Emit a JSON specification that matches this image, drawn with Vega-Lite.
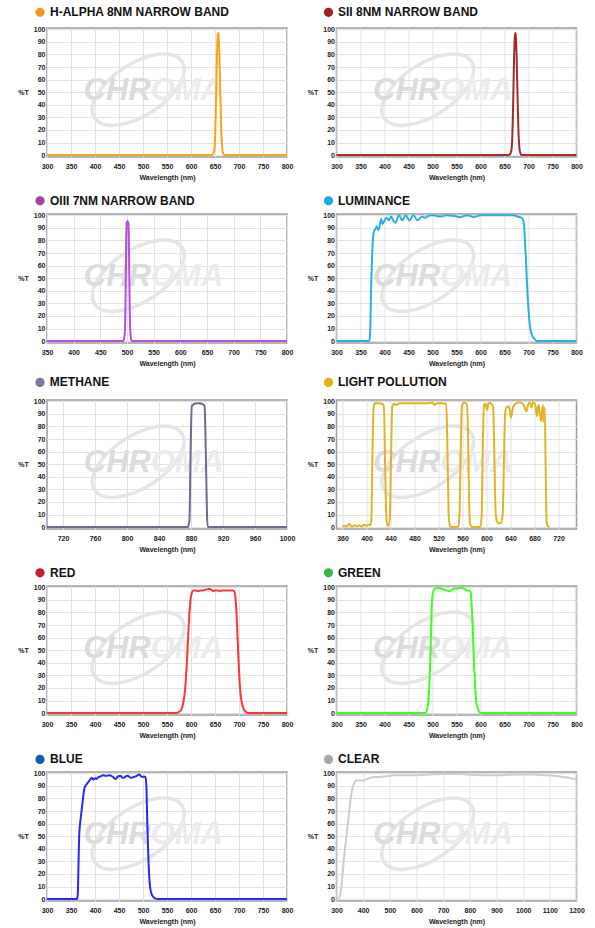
{
"$schema": "https://vega.github.io/schema/vega-lite/v6.json",
"padding": {"left": 17, "top": 5, "right": 5, "bottom": 2},
"background": "white",
"config": {
  "numberFormat": "d",
  "view": {"stroke": "#9d9d9d", "strokeWidth": 1.5},
  "axis": {"grid": true, "gridColor": "#e2e2e2", "gridWidth": 1, "domain": false, "ticks": false, "labelFont": "Liberation Sans", "labelFontSize": 7, "labelFontWeight": "bold", "labelColor": "#222", "titleFont": "Liberation Sans", "titleFontSize": 7, "titleFontWeight": "bold", "titleColor": "#222", "labelFlush": false, "labelOverlap": false},
  "axisX": {"labelPadding": 5, "titlePadding": 4},
  "axisY": {"labelPadding": 2, "titleAngle": 0, "titleX": -24, "titleY": 64, "titleAlign": "center", "titleBaseline": "middle"},
  "text": {"font": "Liberation Sans"}
},
"datasets": {
  "ha": [{"w":300,"t":0},{"w":640,"t":0},{"w":645,"t":0.5},{"w":648,"t":3},{"w":650,"t":12},{"w":652,"t":40},{"w":654,"t":78},{"w":655.5,"t":94},{"w":656.5,"t":97},{"w":657.5,"t":95},{"w":659,"t":82},{"w":661,"t":50},{"w":663,"t":20},{"w":665,"t":6},{"w":667,"t":1.5},{"w":670,"t":0},{"w":800,"t":0}],
  "sii": [{"w":300,"t":0},{"w":656,"t":0},{"w":661,"t":0.5},{"w":664,"t":3},{"w":666,"t":12},{"w":668,"t":40},{"w":670,"t":78},{"w":671.5,"t":94},{"w":672.5,"t":97},{"w":673.5,"t":95},{"w":675,"t":82},{"w":677,"t":50},{"w":679,"t":20},{"w":681,"t":6},{"w":683,"t":1.5},{"w":686,"t":0},{"w":800,"t":0}],
  "oiii": [{"w":350,"t":0},{"w":492,"t":0},{"w":494,"t":1},{"w":496,"t":8},{"w":497.5,"t":40},{"w":498.5,"t":80},{"w":499.5,"t":94},{"w":501,"t":95.5},{"w":502.5,"t":94},{"w":503.5,"t":82},{"w":504.5,"t":45},{"w":506,"t":10},{"w":508,"t":1},{"w":510,"t":0},{"w":800,"t":0}],
  "lum": [{"w":300,"t":0},{"w":368,"t":0},{"w":370,"t":5},{"w":372,"t":40},{"w":375,"t":75},{"w":378,"t":87},{"w":381,"t":89},{"w":384,"t":91},{"w":387,"t":88},{"w":390,"t":92},{"w":393,"t":97},{"w":396,"t":93},{"w":399,"t":95},{"w":404,"t":98},{"w":409,"t":96},{"w":414,"t":99},{"w":418,"t":96},{"w":423,"t":94},{"w":430,"t":100},{"w":437,"t":96},{"w":444,"t":100},{"w":452,"t":96},{"w":460,"t":100},{"w":469,"t":96},{"w":478,"t":99},{"w":485,"t":98},{"w":492,"t":99.5},{"w":499,"t":100},{"w":508,"t":99.5},{"w":517,"t":99},{"w":530,"t":100},{"w":545,"t":99.5},{"w":558,"t":98.5},{"w":572,"t":100},{"w":586,"t":98.5},{"w":600,"t":100},{"w":620,"t":100},{"w":640,"t":100},{"w":660,"t":100},{"w":669,"t":100},{"w":676,"t":99},{"w":683,"t":98.5},{"w":688,"t":97},{"w":691,"t":90},{"w":694,"t":70},{"w":697,"t":45},{"w":700,"t":25},{"w":703,"t":12},{"w":707,"t":5},{"w":712,"t":2},{"w":718,"t":0},{"w":800,"t":0}],
  "meth": [{"w":700,"t":0},{"w":876,"t":0},{"w":878,"t":5},{"w":879.5,"t":60},{"w":881,"t":96},{"w":885,"t":98.3},{"w":890,"t":98.5},{"w":895,"t":97.5},{"w":897,"t":96},{"w":898.5,"t":60},{"w":900,"t":10},{"w":901,"t":0},{"w":1000,"t":0}],
  "lp": [{"w":360,"t":0.5},{"w":363,"t":1},{"w":366,"t":0.5},{"w":369,"t":1.5},{"w":371.5,"t":2.5},{"w":374,"t":1},{"w":377,"t":0.5},{"w":380,"t":1.5},{"w":384,"t":0.8},{"w":388,"t":1.5},{"w":392,"t":0.5},{"w":396,"t":1.8},{"w":400,"t":1},{"w":404,"t":2},{"w":406,"t":1.5},{"w":408,"t":5},{"w":410,"t":60},{"w":412,"t":96},{"w":414,"t":98.5},{"w":420,"t":98.5},{"w":426,"t":98},{"w":429,"t":96},{"w":431,"t":50},{"w":433,"t":8},{"w":435,"t":1.5},{"w":437,"t":1},{"w":439,"t":8},{"w":441,"t":60},{"w":443,"t":96},{"w":446,"t":98},{"w":450,"t":97},{"w":455,"t":98.5},{"w":470,"t":98.5},{"w":490,"t":98.5},{"w":505,"t":98.5},{"w":510,"t":99},{"w":513,"t":97},{"w":518,"t":98.5},{"w":525,"t":98.5},{"w":533,"t":98},{"w":535,"t":60},{"w":537,"t":10},{"w":539,"t":1},{"w":541,"t":0},{"w":550,"t":0},{"w":553,"t":0.5},{"w":555,"t":10},{"w":557,"t":60},{"w":559,"t":96},{"w":563,"t":99},{"w":567,"t":98},{"w":569,"t":80},{"w":571,"t":20},{"w":573,"t":2},{"w":576,"t":0},{"w":590,"t":0},{"w":592,"t":10},{"w":594,"t":70},{"w":596,"t":97},{"w":598,"t":98},{"w":601,"t":93},{"w":603,"t":98},{"w":605.5,"t":99},{"w":608,"t":98},{"w":611,"t":96},{"w":613,"t":60},{"w":615,"t":15},{"w":617,"t":5},{"w":620,"t":3},{"w":624,"t":3},{"w":627,"t":10},{"w":629,"t":50},{"w":631,"t":90},{"w":633,"t":95},{"w":637,"t":96},{"w":639,"t":92},{"w":641,"t":87},{"w":644,"t":95},{"w":648,"t":98},{"w":652,"t":99},{"w":657,"t":99},{"w":662,"t":97},{"w":665,"t":93},{"w":666.7,"t":92},{"w":669,"t":97},{"w":672,"t":99},{"w":675,"t":95},{"w":677,"t":99},{"w":679,"t":99},{"w":681.7,"t":96},{"w":684,"t":88},{"w":686,"t":96},{"w":687,"t":97},{"w":688.9,"t":89},{"w":690,"t":88},{"w":691,"t":84},{"w":692.5,"t":92},{"w":694,"t":97},{"w":695,"t":84},{"w":696,"t":90},{"w":697,"t":95},{"w":698.5,"t":50},{"w":700,"t":8},{"w":701,"t":2},{"w":703,"t":0.5},{"w":705,"t":0}],
  "red": [{"w":300,"t":0},{"w":570,"t":0},{"w":575,"t":1},{"w":580,"t":3},{"w":584,"t":8},{"w":588,"t":20},{"w":592,"t":45},{"w":596,"t":75},{"w":599,"t":90},{"w":602,"t":96},{"w":605,"t":97.5},{"w":610,"t":97.5},{"w":615,"t":97},{"w":620,"t":97.5},{"w":625,"t":97.5},{"w":630,"t":98},{"w":635,"t":98.5},{"w":638,"t":98.8},{"w":642,"t":98},{"w":646,"t":97},{"w":650,"t":97.5},{"w":656,"t":97.5},{"w":660,"t":97},{"w":665,"t":97.5},{"w":672,"t":97.5},{"w":680,"t":97.5},{"w":688,"t":97.5},{"w":691,"t":96},{"w":693,"t":90},{"w":695,"t":78},{"w":697,"t":60},{"w":699,"t":42},{"w":701,"t":27},{"w":703,"t":16},{"w":706,"t":8},{"w":709,"t":4},{"w":712,"t":2},{"w":716,"t":0.5},{"w":722,"t":0},{"w":800,"t":0}],
  "green": [{"w":300,"t":0},{"w":483,"t":0},{"w":487,"t":1},{"w":490,"t":5},{"w":493,"t":20},{"w":496,"t":50},{"w":498,"t":80},{"w":500,"t":94},{"w":503,"t":98},{"w":507,"t":99},{"w":512,"t":99.5},{"w":517,"t":99},{"w":522,"t":98.5},{"w":528,"t":97.5},{"w":534,"t":97},{"w":540,"t":98},{"w":546,"t":99},{"w":551,"t":99},{"w":556,"t":99.5},{"w":562,"t":99.5},{"w":567,"t":98.5},{"w":572,"t":97.5},{"w":576,"t":97.5},{"w":579,"t":97},{"w":581,"t":90},{"w":583,"t":75},{"w":585,"t":55},{"w":587,"t":35},{"w":589,"t":20},{"w":591,"t":10},{"w":594,"t":4},{"w":597,"t":1.5},{"w":601,"t":0},{"w":800,"t":0}],
  "blue": [{"w":300,"t":0},{"w":362,"t":0},{"w":364,"t":3},{"w":365.5,"t":25},{"w":367,"t":50},{"w":369,"t":60},{"w":372,"t":70},{"w":375,"t":80},{"w":378,"t":88},{"w":382,"t":91},{"w":386,"t":93},{"w":390,"t":95},{"w":393,"t":96.5},{"w":396,"t":95},{"w":400,"t":96},{"w":403,"t":95.5},{"w":407,"t":97},{"w":412,"t":97.5},{"w":416,"t":98.5},{"w":421,"t":98},{"w":426,"t":98},{"w":430,"t":98.5},{"w":434,"t":98},{"w":439,"t":96.5},{"w":443,"t":95.5},{"w":448,"t":97.5},{"w":453,"t":98},{"w":457,"t":96.5},{"w":460,"t":96.5},{"w":464,"t":97.5},{"w":468,"t":98},{"w":472,"t":97},{"w":476,"t":96.5},{"w":480,"t":97},{"w":485,"t":97.5},{"w":489,"t":98.5},{"w":492,"t":99},{"w":495,"t":98},{"w":499,"t":97},{"w":502,"t":97.5},{"w":505,"t":97},{"w":507,"t":90},{"w":509,"t":60},{"w":511,"t":35},{"w":513,"t":18},{"w":515,"t":9},{"w":518,"t":4},{"w":521,"t":2},{"w":525,"t":0.5},{"w":530,"t":0},{"w":800,"t":0}],
  "clear": [{"w":300,"t":0},{"w":305,"t":0},{"w":310,"t":1},{"w":314,"t":4},{"w":318,"t":9},{"w":322,"t":18},{"w":327,"t":30},{"w":333,"t":42},{"w":340,"t":55},{"w":347,"t":68},{"w":353,"t":80},{"w":360,"t":88},{"w":366,"t":92},{"w":372,"t":94},{"w":380,"t":94.3},{"w":390,"t":94.3},{"w":403,"t":94.5},{"w":415,"t":95.5},{"w":428,"t":96.5},{"w":440,"t":97},{"w":460,"t":97},{"w":483,"t":97.5},{"w":500,"t":98},{"w":520,"t":98.5},{"w":560,"t":98.5},{"w":607,"t":98.5},{"w":650,"t":99},{"w":694,"t":99.5},{"w":730,"t":99.5},{"w":768,"t":99.5},{"w":790,"t":99},{"w":850,"t":98.5},{"w":917,"t":98.5},{"w":980,"t":99},{"w":1041,"t":99},{"w":1080,"t":98.5},{"w":1115,"t":98},{"w":1150,"t":97},{"w":1180,"t":96},{"w":1200,"t":95}]
},
"bounds": "flush",
"columns": 2,
"spacing": {"row": 57, "column": 49.5},
"concat": [
  {"width": 240, "height": 129,
   "layer": [
    {"data": {"values": [{}]}, "mark": {"type": "point", "shape": "M-1,0C-1,-0.276,-0.552,-0.5,0,-0.5C0.552,-0.5,1,-0.276,1,0C1,0.276,0.552,0.5,0,0.5C-0.552,0.5,-1,0.276,-1,0Z", "size": 10816, "angle": -33, "filled": false, "color": "#e5e5e5", "strokeWidth": 3.5, "opacity": 1}, "encoding": {"x": {"datum": 490, "type": "quantitative", "axis": {"title": "Wavelength (nm)", "values": [300,350,400,450,500,550,600,650,700,750,800]}}, "y": {"datum": 52, "type": "quantitative", "axis": {"title": "%T", "values": [0,10,20,30,40,50,60,70,80,90,100]}}}},
    {"data": {"values": [{}]}, "mark": {"type": "text", "text": "CHR", "align": "right", "baseline": "middle", "fontSize": 31, "fontWeight": "bold", "fontStyle": "italic", "color": "#dcdcdc"}, "encoding": {"x": {"datum": 516, "type": "quantitative", "axis": {"title": "Wavelength (nm)", "values": [300,350,400,450,500,550,600,650,700,750,800]}}, "y": {"datum": 51, "type": "quantitative", "axis": {"title": "%T", "values": [0,10,20,30,40,50,60,70,80,90,100]}}}},
    {"data": {"values": [{}]}, "mark": {"type": "text", "text": "OMA", "align": "left", "baseline": "middle", "fontSize": 31, "fontWeight": "bold", "fontStyle": "italic", "color": "#ebebeb"}, "encoding": {"x": {"datum": 516, "type": "quantitative", "axis": {"title": "Wavelength (nm)", "values": [300,350,400,450,500,550,600,650,700,750,800]}}, "y": {"datum": 51, "type": "quantitative", "axis": {"title": "%T", "values": [0,10,20,30,40,50,60,70,80,90,100]}}}},
    {"data": {"values": [{"name": "H-ALPHA 8NM NARROW BAND"}]}, "mark": {"type": "point", "filled": true, "size": 85, "color": "#f7941d", "opacity": 1}, "encoding": {"x": {"datum": 285.4, "type": "quantitative", "axis": {"title": "Wavelength (nm)", "values": [300,350,400,450,500,550,600,650,700,750,800]}}, "y": {"datum": 113.5, "type": "quantitative", "axis": {"title": "%T", "values": [0,10,20,30,40,50,60,70,80,90,100]}}}},
    {"data": {"values": [{"name": "H-ALPHA 8NM NARROW BAND"}]}, "mark": {"type": "text", "align": "left", "baseline": "middle", "fontSize": 12, "fontWeight": "bold", "color": "#111"}, "encoding": {"text": {"field": "name"}, "x": {"datum": 306.25, "type": "quantitative", "axis": {"title": "Wavelength (nm)", "values": [300,350,400,450,500,550,600,650,700,750,800]}}, "y": {"datum": 113.5, "type": "quantitative", "axis": {"title": "%T", "values": [0,10,20,30,40,50,60,70,80,90,100]}}}},
    {"data": {"name": "ha"}, "mark": {"type": "line", "color": "#f9a51a", "strokeWidth": 2, "interpolate": "monotone"},
     "encoding": {"x": {"field": "w", "type": "quantitative", "scale": {"domain": [300, 800], "nice": false, "zero": false}, "axis": {"title": "Wavelength (nm)", "values": [300,350,400,450,500,550,600,650,700,750,800]}},
                  "y": {"field": "t", "type": "quantitative", "scale": {"domain": [-1.5, 101], "nice": false}, "axis": {"title": "%T", "values": [0,10,20,30,40,50,60,70,80,90,100]}}}}
   ]},
  {"width": 240, "height": 129,
   "layer": [
    {"data": {"values": [{}]}, "mark": {"type": "point", "shape": "M-1,0C-1,-0.276,-0.552,-0.5,0,-0.5C0.552,-0.5,1,-0.276,1,0C1,0.276,0.552,0.5,0,0.5C-0.552,0.5,-1,0.276,-1,0Z", "size": 10816, "angle": -33, "filled": false, "color": "#e5e5e5", "strokeWidth": 3.5, "opacity": 1}, "encoding": {"x": {"datum": 490, "type": "quantitative", "axis": {"title": "Wavelength (nm)", "values": [300,350,400,450,500,550,600,650,700,750,800]}}, "y": {"datum": 52, "type": "quantitative", "axis": {"title": "%T", "values": [0,10,20,30,40,50,60,70,80,90,100]}}}},
    {"data": {"values": [{}]}, "mark": {"type": "text", "text": "CHR", "align": "right", "baseline": "middle", "fontSize": 31, "fontWeight": "bold", "fontStyle": "italic", "color": "#dcdcdc"}, "encoding": {"x": {"datum": 516, "type": "quantitative", "axis": {"title": "Wavelength (nm)", "values": [300,350,400,450,500,550,600,650,700,750,800]}}, "y": {"datum": 51, "type": "quantitative", "axis": {"title": "%T", "values": [0,10,20,30,40,50,60,70,80,90,100]}}}},
    {"data": {"values": [{}]}, "mark": {"type": "text", "text": "OMA", "align": "left", "baseline": "middle", "fontSize": 31, "fontWeight": "bold", "fontStyle": "italic", "color": "#ebebeb"}, "encoding": {"x": {"datum": 516, "type": "quantitative", "axis": {"title": "Wavelength (nm)", "values": [300,350,400,450,500,550,600,650,700,750,800]}}, "y": {"datum": 51, "type": "quantitative", "axis": {"title": "%T", "values": [0,10,20,30,40,50,60,70,80,90,100]}}}},
    {"data": {"values": [{"name": "SII 8NM NARROW BAND"}]}, "mark": {"type": "point", "filled": true, "size": 85, "color": "#a31f24", "opacity": 1}, "encoding": {"x": {"datum": 283.3, "type": "quantitative", "axis": {"title": "Wavelength (nm)", "values": [300,350,400,450,500,550,600,650,700,750,800]}}, "y": {"datum": 113.5, "type": "quantitative", "axis": {"title": "%T", "values": [0,10,20,30,40,50,60,70,80,90,100]}}}},
    {"data": {"values": [{"name": "SII 8NM NARROW BAND"}]}, "mark": {"type": "text", "align": "left", "baseline": "middle", "fontSize": 12, "fontWeight": "bold", "color": "#111"}, "encoding": {"text": {"field": "name"}, "x": {"datum": 303.1, "type": "quantitative", "axis": {"title": "Wavelength (nm)", "values": [300,350,400,450,500,550,600,650,700,750,800]}}, "y": {"datum": 113.5, "type": "quantitative", "axis": {"title": "%T", "values": [0,10,20,30,40,50,60,70,80,90,100]}}}},
    {"data": {"name": "sii"}, "mark": {"type": "line", "color": "#a52a2a", "strokeWidth": 2, "interpolate": "monotone"},
     "encoding": {"x": {"field": "w", "type": "quantitative", "scale": {"domain": [300, 800], "nice": false, "zero": false}, "axis": {"title": "Wavelength (nm)", "values": [300,350,400,450,500,550,600,650,700,750,800]}},
                  "y": {"field": "t", "type": "quantitative", "scale": {"domain": [-1.5, 101], "nice": false}, "axis": {"title": "%T", "values": [0,10,20,30,40,50,60,70,80,90,100]}}}}
   ]},
  {"width": 240, "height": 129,
   "layer": [
    {"data": {"values": [{}]}, "mark": {"type": "point", "shape": "M-1,0C-1,-0.276,-0.552,-0.5,0,-0.5C0.552,-0.5,1,-0.276,1,0C1,0.276,0.552,0.5,0,0.5C-0.552,0.5,-1,0.276,-1,0Z", "size": 10816, "angle": -33, "filled": false, "color": "#e5e5e5", "strokeWidth": 3.5, "opacity": 1}, "encoding": {"x": {"datum": 521, "type": "quantitative", "axis": {"title": "Wavelength (nm)", "values": [350,400,450,500,550,600,650,700,750,800]}}, "y": {"datum": 52, "type": "quantitative", "axis": {"title": "%T", "values": [0,10,20,30,40,50,60,70,80,90,100]}}}},
    {"data": {"values": [{}]}, "mark": {"type": "text", "text": "CHR", "align": "right", "baseline": "middle", "fontSize": 31, "fontWeight": "bold", "fontStyle": "italic", "color": "#dcdcdc"}, "encoding": {"x": {"datum": 545, "type": "quantitative", "axis": {"title": "Wavelength (nm)", "values": [350,400,450,500,550,600,650,700,750,800]}}, "y": {"datum": 51, "type": "quantitative", "axis": {"title": "%T", "values": [0,10,20,30,40,50,60,70,80,90,100]}}}},
    {"data": {"values": [{}]}, "mark": {"type": "text", "text": "OMA", "align": "left", "baseline": "middle", "fontSize": 31, "fontWeight": "bold", "fontStyle": "italic", "color": "#ebebeb"}, "encoding": {"x": {"datum": 545, "type": "quantitative", "axis": {"title": "Wavelength (nm)", "values": [350,400,450,500,550,600,650,700,750,800]}}, "y": {"datum": 51, "type": "quantitative", "axis": {"title": "%T", "values": [0,10,20,30,40,50,60,70,80,90,100]}}}},
    {"data": {"values": [{"name": "OIII 7NM NARROW BAND"}]}, "mark": {"type": "point", "filled": true, "size": 85, "color": "#a5449b", "opacity": 1}, "encoding": {"x": {"datum": 336.9, "type": "quantitative", "axis": {"title": "Wavelength (nm)", "values": [350,400,450,500,550,600,650,700,750,800]}}, "y": {"datum": 111.5, "type": "quantitative", "axis": {"title": "%T", "values": [0,10,20,30,40,50,60,70,80,90,100]}}}},
    {"data": {"values": [{"name": "OIII 7NM NARROW BAND"}]}, "mark": {"type": "text", "align": "left", "baseline": "middle", "fontSize": 12, "fontWeight": "bold", "color": "#111"}, "encoding": {"text": {"field": "name"}, "x": {"datum": 355.6, "type": "quantitative", "axis": {"title": "Wavelength (nm)", "values": [350,400,450,500,550,600,650,700,750,800]}}, "y": {"datum": 111.5, "type": "quantitative", "axis": {"title": "%T", "values": [0,10,20,30,40,50,60,70,80,90,100]}}}},
    {"data": {"name": "oiii"}, "mark": {"type": "line", "color": "#b34fe3", "strokeWidth": 2, "interpolate": "monotone"},
     "encoding": {"x": {"field": "w", "type": "quantitative", "scale": {"domain": [350, 800], "nice": false, "zero": false}, "axis": {"title": "Wavelength (nm)", "values": [350,400,450,500,550,600,650,700,750,800]}},
                  "y": {"field": "t", "type": "quantitative", "scale": {"domain": [-1.5, 101], "nice": false}, "axis": {"title": "%T", "values": [0,10,20,30,40,50,60,70,80,90,100]}}}}
   ]},
  {"width": 240, "height": 129,
   "layer": [
    {"data": {"values": [{}]}, "mark": {"type": "point", "shape": "M-1,0C-1,-0.276,-0.552,-0.5,0,-0.5C0.552,-0.5,1,-0.276,1,0C1,0.276,0.552,0.5,0,0.5C-0.552,0.5,-1,0.276,-1,0Z", "size": 10816, "angle": -33, "filled": false, "color": "#e5e5e5", "strokeWidth": 3.5, "opacity": 1}, "encoding": {"x": {"datum": 490, "type": "quantitative", "axis": {"title": "Wavelength (nm)", "values": [300,350,400,450,500,550,600,650,700,750,800]}}, "y": {"datum": 52, "type": "quantitative", "axis": {"title": "%T", "values": [0,10,20,30,40,50,60,70,80,90,100]}}}},
    {"data": {"values": [{}]}, "mark": {"type": "text", "text": "CHR", "align": "right", "baseline": "middle", "fontSize": 31, "fontWeight": "bold", "fontStyle": "italic", "color": "#dcdcdc"}, "encoding": {"x": {"datum": 516, "type": "quantitative", "axis": {"title": "Wavelength (nm)", "values": [300,350,400,450,500,550,600,650,700,750,800]}}, "y": {"datum": 51, "type": "quantitative", "axis": {"title": "%T", "values": [0,10,20,30,40,50,60,70,80,90,100]}}}},
    {"data": {"values": [{}]}, "mark": {"type": "text", "text": "OMA", "align": "left", "baseline": "middle", "fontSize": 31, "fontWeight": "bold", "fontStyle": "italic", "color": "#ebebeb"}, "encoding": {"x": {"datum": 516, "type": "quantitative", "axis": {"title": "Wavelength (nm)", "values": [300,350,400,450,500,550,600,650,700,750,800]}}, "y": {"datum": 51, "type": "quantitative", "axis": {"title": "%T", "values": [0,10,20,30,40,50,60,70,80,90,100]}}}},
    {"data": {"values": [{"name": "LUMINANCE"}]}, "mark": {"type": "point", "filled": true, "size": 85, "color": "#1aaae8", "opacity": 1}, "encoding": {"x": {"datum": 283.3, "type": "quantitative", "axis": {"title": "Wavelength (nm)", "values": [300,350,400,450,500,550,600,650,700,750,800]}}, "y": {"datum": 111.5, "type": "quantitative", "axis": {"title": "%T", "values": [0,10,20,30,40,50,60,70,80,90,100]}}}},
    {"data": {"values": [{"name": "LUMINANCE"}]}, "mark": {"type": "text", "align": "left", "baseline": "middle", "fontSize": 12, "fontWeight": "bold", "color": "#111"}, "encoding": {"text": {"field": "name"}, "x": {"datum": 303.1, "type": "quantitative", "axis": {"title": "Wavelength (nm)", "values": [300,350,400,450,500,550,600,650,700,750,800]}}, "y": {"datum": 111.5, "type": "quantitative", "axis": {"title": "%T", "values": [0,10,20,30,40,50,60,70,80,90,100]}}}},
    {"data": {"name": "lum"}, "mark": {"type": "line", "color": "#2aafe8", "strokeWidth": 2, "interpolate": "monotone"},
     "encoding": {"x": {"field": "w", "type": "quantitative", "scale": {"domain": [300, 800], "nice": false, "zero": false}, "axis": {"title": "Wavelength (nm)", "values": [300,350,400,450,500,550,600,650,700,750,800]}},
                  "y": {"field": "t", "type": "quantitative", "scale": {"domain": [-1.5, 101], "nice": false}, "axis": {"title": "%T", "values": [0,10,20,30,40,50,60,70,80,90,100]}}}}
   ]},
  {"width": 240, "height": 129,
   "layer": [
    {"data": {"values": [{}]}, "mark": {"type": "point", "shape": "M-1,0C-1,-0.276,-0.552,-0.5,0,-0.5C0.552,-0.5,1,-0.276,1,0C1,0.276,0.552,0.5,0,0.5C-0.552,0.5,-1,0.276,-1,0Z", "size": 10816, "angle": -33, "filled": false, "color": "#e5e5e5", "strokeWidth": 3.5, "opacity": 1}, "encoding": {"x": {"datum": 814, "type": "quantitative", "axis": {"title": "Wavelength (nm)", "values": [720,760,800,840,880,920,960,1000]}}, "y": {"datum": 52, "type": "quantitative", "axis": {"title": "%T", "values": [0,10,20,30,40,50,60,70,80,90,100]}}}},
    {"data": {"values": [{}]}, "mark": {"type": "text", "text": "CHR", "align": "right", "baseline": "middle", "fontSize": 31, "fontWeight": "bold", "fontStyle": "italic", "color": "#dcdcdc"}, "encoding": {"x": {"datum": 830, "type": "quantitative", "axis": {"title": "Wavelength (nm)", "values": [720,760,800,840,880,920,960,1000]}}, "y": {"datum": 51, "type": "quantitative", "axis": {"title": "%T", "values": [0,10,20,30,40,50,60,70,80,90,100]}}}},
    {"data": {"values": [{}]}, "mark": {"type": "text", "text": "OMA", "align": "left", "baseline": "middle", "fontSize": 31, "fontWeight": "bold", "fontStyle": "italic", "color": "#ebebeb"}, "encoding": {"x": {"datum": 830, "type": "quantitative", "axis": {"title": "Wavelength (nm)", "values": [720,760,800,840,880,920,960,1000]}}, "y": {"datum": 51, "type": "quantitative", "axis": {"title": "%T", "values": [0,10,20,30,40,50,60,70,80,90,100]}}}},
    {"data": {"values": [{"name": "METHANE"}]}, "mark": {"type": "point", "filled": true, "size": 85, "color": "#77789c", "opacity": 1}, "encoding": {"x": {"datum": 691.25, "type": "quantitative", "axis": {"title": "Wavelength (nm)", "values": [720,760,800,840,880,920,960,1000]}}, "y": {"datum": 115, "type": "quantitative", "axis": {"title": "%T", "values": [0,10,20,30,40,50,60,70,80,90,100]}}}},
    {"data": {"values": [{"name": "METHANE"}]}, "mark": {"type": "text", "align": "left", "baseline": "middle", "fontSize": 12, "fontWeight": "bold", "color": "#111"}, "encoding": {"text": {"field": "name"}, "x": {"datum": 703.5, "type": "quantitative", "axis": {"title": "Wavelength (nm)", "values": [720,760,800,840,880,920,960,1000]}}, "y": {"datum": 115, "type": "quantitative", "axis": {"title": "%T", "values": [0,10,20,30,40,50,60,70,80,90,100]}}}},
    {"data": {"name": "meth"}, "mark": {"type": "line", "color": "#6c6c8f", "strokeWidth": 2, "interpolate": "monotone"},
     "encoding": {"x": {"field": "w", "type": "quantitative", "scale": {"domain": [700, 1000], "nice": false, "zero": false}, "axis": {"title": "Wavelength (nm)", "values": [720,760,800,840,880,920,960,1000]}},
                  "y": {"field": "t", "type": "quantitative", "scale": {"domain": [-1.5, 101], "nice": false}, "axis": {"title": "%T", "values": [0,10,20,30,40,50,60,70,80,90,100]}}}}
   ]},
  {"width": 240, "height": 129,
   "layer": [
    {"data": {"values": [{}]}, "mark": {"type": "point", "shape": "M-1,0C-1,-0.276,-0.552,-0.5,0,-0.5C0.552,-0.5,1,-0.276,1,0C1,0.276,0.552,0.5,0,0.5C-0.552,0.5,-1,0.276,-1,0Z", "size": 10816, "angle": -33, "filled": false, "color": "#e5e5e5", "strokeWidth": 3.5, "opacity": 1}, "encoding": {"x": {"datum": 502, "type": "quantitative", "axis": {"title": "Wavelength (nm)", "values": [360,400,440,480,520,560,600,640,680,720]}}, "y": {"datum": 52, "type": "quantitative", "axis": {"title": "%T", "values": [0,10,20,30,40,50,60,70,80,90,100]}}}},
    {"data": {"values": [{}]}, "mark": {"type": "text", "text": "CHR", "align": "right", "baseline": "middle", "fontSize": 31, "fontWeight": "bold", "fontStyle": "italic", "color": "#dcdcdc"}, "encoding": {"x": {"datum": 523, "type": "quantitative", "axis": {"title": "Wavelength (nm)", "values": [360,400,440,480,520,560,600,640,680,720]}}, "y": {"datum": 51, "type": "quantitative", "axis": {"title": "%T", "values": [0,10,20,30,40,50,60,70,80,90,100]}}}},
    {"data": {"values": [{}]}, "mark": {"type": "text", "text": "OMA", "align": "left", "baseline": "middle", "fontSize": 31, "fontWeight": "bold", "fontStyle": "italic", "color": "#ebebeb"}, "encoding": {"x": {"datum": 523, "type": "quantitative", "axis": {"title": "Wavelength (nm)", "values": [360,400,440,480,520,560,600,640,680,720]}}, "y": {"datum": 51, "type": "quantitative", "axis": {"title": "%T", "values": [0,10,20,30,40,50,60,70,80,90,100]}}}},
    {"data": {"values": [{"name": "LIGHT POLLUTION"}]}, "mark": {"type": "point", "filled": true, "size": 85, "color": "#e1b410", "opacity": 1}, "encoding": {"x": {"datum": 336.7, "type": "quantitative", "axis": {"title": "Wavelength (nm)", "values": [360,400,440,480,520,560,600,640,680,720]}}, "y": {"datum": 115, "type": "quantitative", "axis": {"title": "%T", "values": [0,10,20,30,40,50,60,70,80,90,100]}}}},
    {"data": {"values": [{"name": "LIGHT POLLUTION"}]}, "mark": {"type": "text", "align": "left", "baseline": "middle", "fontSize": 12, "fontWeight": "bold", "color": "#111"}, "encoding": {"text": {"field": "name"}, "x": {"datum": 352.5, "type": "quantitative", "axis": {"title": "Wavelength (nm)", "values": [360,400,440,480,520,560,600,640,680,720]}}, "y": {"datum": 115, "type": "quantitative", "axis": {"title": "%T", "values": [0,10,20,30,40,50,60,70,80,90,100]}}}},
    {"data": {"name": "lp"}, "mark": {"type": "line", "color": "#e2b424", "strokeWidth": 2, "interpolate": "monotone"},
     "encoding": {"x": {"field": "w", "type": "quantitative", "scale": {"domain": [350, 750], "nice": false, "zero": false}, "axis": {"title": "Wavelength (nm)", "values": [360,400,440,480,520,560,600,640,680,720]}},
                  "y": {"field": "t", "type": "quantitative", "scale": {"domain": [-1.5, 101], "nice": false}, "axis": {"title": "%T", "values": [0,10,20,30,40,50,60,70,80,90,100]}}}}
   ]},
  {"width": 240, "height": 129,
   "layer": [
    {"data": {"values": [{}]}, "mark": {"type": "point", "shape": "M-1,0C-1,-0.276,-0.552,-0.5,0,-0.5C0.552,-0.5,1,-0.276,1,0C1,0.276,0.552,0.5,0,0.5C-0.552,0.5,-1,0.276,-1,0Z", "size": 10816, "angle": -33, "filled": false, "color": "#e5e5e5", "strokeWidth": 3.5, "opacity": 1}, "encoding": {"x": {"datum": 490, "type": "quantitative", "axis": {"title": "Wavelength (nm)", "values": [300,350,400,450,500,550,600,650,700,750,800]}}, "y": {"datum": 52, "type": "quantitative", "axis": {"title": "%T", "values": [0,10,20,30,40,50,60,70,80,90,100]}}}},
    {"data": {"values": [{}]}, "mark": {"type": "text", "text": "CHR", "align": "right", "baseline": "middle", "fontSize": 31, "fontWeight": "bold", "fontStyle": "italic", "color": "#dcdcdc"}, "encoding": {"x": {"datum": 516, "type": "quantitative", "axis": {"title": "Wavelength (nm)", "values": [300,350,400,450,500,550,600,650,700,750,800]}}, "y": {"datum": 51, "type": "quantitative", "axis": {"title": "%T", "values": [0,10,20,30,40,50,60,70,80,90,100]}}}},
    {"data": {"values": [{}]}, "mark": {"type": "text", "text": "OMA", "align": "left", "baseline": "middle", "fontSize": 31, "fontWeight": "bold", "fontStyle": "italic", "color": "#ebebeb"}, "encoding": {"x": {"datum": 516, "type": "quantitative", "axis": {"title": "Wavelength (nm)", "values": [300,350,400,450,500,550,600,650,700,750,800]}}, "y": {"datum": 51, "type": "quantitative", "axis": {"title": "%T", "values": [0,10,20,30,40,50,60,70,80,90,100]}}}},
    {"data": {"values": [{"name": "RED"}]}, "mark": {"type": "point", "filled": true, "size": 85, "color": "#c8202f", "opacity": 1}, "encoding": {"x": {"datum": 285.4, "type": "quantitative", "axis": {"title": "Wavelength (nm)", "values": [300,350,400,450,500,550,600,650,700,750,800]}}, "y": {"datum": 111.5, "type": "quantitative", "axis": {"title": "%T", "values": [0,10,20,30,40,50,60,70,80,90,100]}}}},
    {"data": {"values": [{"name": "RED"}]}, "mark": {"type": "text", "align": "left", "baseline": "middle", "fontSize": 12, "fontWeight": "bold", "color": "#111"}, "encoding": {"text": {"field": "name"}, "x": {"datum": 306.25, "type": "quantitative", "axis": {"title": "Wavelength (nm)", "values": [300,350,400,450,500,550,600,650,700,750,800]}}, "y": {"datum": 111.5, "type": "quantitative", "axis": {"title": "%T", "values": [0,10,20,30,40,50,60,70,80,90,100]}}}},
    {"data": {"name": "red"}, "mark": {"type": "line", "color": "#ff3535", "strokeWidth": 2, "interpolate": "monotone"},
     "encoding": {"x": {"field": "w", "type": "quantitative", "scale": {"domain": [300, 800], "nice": false, "zero": false}, "axis": {"title": "Wavelength (nm)", "values": [300,350,400,450,500,550,600,650,700,750,800]}},
                  "y": {"field": "t", "type": "quantitative", "scale": {"domain": [-1.5, 101], "nice": false}, "axis": {"title": "%T", "values": [0,10,20,30,40,50,60,70,80,90,100]}}}}
   ]},
  {"width": 240, "height": 129,
   "layer": [
    {"data": {"values": [{}]}, "mark": {"type": "point", "shape": "M-1,0C-1,-0.276,-0.552,-0.5,0,-0.5C0.552,-0.5,1,-0.276,1,0C1,0.276,0.552,0.5,0,0.5C-0.552,0.5,-1,0.276,-1,0Z", "size": 10816, "angle": -33, "filled": false, "color": "#e5e5e5", "strokeWidth": 3.5, "opacity": 1}, "encoding": {"x": {"datum": 490, "type": "quantitative", "axis": {"title": "Wavelength (nm)", "values": [300,350,400,450,500,550,600,650,700,750,800]}}, "y": {"datum": 52, "type": "quantitative", "axis": {"title": "%T", "values": [0,10,20,30,40,50,60,70,80,90,100]}}}},
    {"data": {"values": [{}]}, "mark": {"type": "text", "text": "CHR", "align": "right", "baseline": "middle", "fontSize": 31, "fontWeight": "bold", "fontStyle": "italic", "color": "#dcdcdc"}, "encoding": {"x": {"datum": 516, "type": "quantitative", "axis": {"title": "Wavelength (nm)", "values": [300,350,400,450,500,550,600,650,700,750,800]}}, "y": {"datum": 51, "type": "quantitative", "axis": {"title": "%T", "values": [0,10,20,30,40,50,60,70,80,90,100]}}}},
    {"data": {"values": [{}]}, "mark": {"type": "text", "text": "OMA", "align": "left", "baseline": "middle", "fontSize": 31, "fontWeight": "bold", "fontStyle": "italic", "color": "#ebebeb"}, "encoding": {"x": {"datum": 516, "type": "quantitative", "axis": {"title": "Wavelength (nm)", "values": [300,350,400,450,500,550,600,650,700,750,800]}}, "y": {"datum": 51, "type": "quantitative", "axis": {"title": "%T", "values": [0,10,20,30,40,50,60,70,80,90,100]}}}},
    {"data": {"values": [{"name": "GREEN"}]}, "mark": {"type": "point", "filled": true, "size": 85, "color": "#3cb44a", "opacity": 1}, "encoding": {"x": {"datum": 283.3, "type": "quantitative", "axis": {"title": "Wavelength (nm)", "values": [300,350,400,450,500,550,600,650,700,750,800]}}, "y": {"datum": 111.5, "type": "quantitative", "axis": {"title": "%T", "values": [0,10,20,30,40,50,60,70,80,90,100]}}}},
    {"data": {"values": [{"name": "GREEN"}]}, "mark": {"type": "text", "align": "left", "baseline": "middle", "fontSize": 12, "fontWeight": "bold", "color": "#111"}, "encoding": {"text": {"field": "name"}, "x": {"datum": 303.1, "type": "quantitative", "axis": {"title": "Wavelength (nm)", "values": [300,350,400,450,500,550,600,650,700,750,800]}}, "y": {"datum": 111.5, "type": "quantitative", "axis": {"title": "%T", "values": [0,10,20,30,40,50,60,70,80,90,100]}}}},
    {"data": {"name": "green"}, "mark": {"type": "line", "color": "#3cff1e", "strokeWidth": 2, "interpolate": "monotone"},
     "encoding": {"x": {"field": "w", "type": "quantitative", "scale": {"domain": [300, 800], "nice": false, "zero": false}, "axis": {"title": "Wavelength (nm)", "values": [300,350,400,450,500,550,600,650,700,750,800]}},
                  "y": {"field": "t", "type": "quantitative", "scale": {"domain": [-1.5, 101], "nice": false}, "axis": {"title": "%T", "values": [0,10,20,30,40,50,60,70,80,90,100]}}}}
   ]},
  {"width": 240, "height": 129,
   "layer": [
    {"data": {"values": [{}]}, "mark": {"type": "point", "shape": "M-1,0C-1,-0.276,-0.552,-0.5,0,-0.5C0.552,-0.5,1,-0.276,1,0C1,0.276,0.552,0.5,0,0.5C-0.552,0.5,-1,0.276,-1,0Z", "size": 10816, "angle": -33, "filled": false, "color": "#e5e5e5", "strokeWidth": 3.5, "opacity": 1}, "encoding": {"x": {"datum": 490, "type": "quantitative", "axis": {"title": "Wavelength (nm)", "values": [300,350,400,450,500,550,600,650,700,750,800]}}, "y": {"datum": 52, "type": "quantitative", "axis": {"title": "%T", "values": [0,10,20,30,40,50,60,70,80,90,100]}}}},
    {"data": {"values": [{}]}, "mark": {"type": "text", "text": "CHR", "align": "right", "baseline": "middle", "fontSize": 31, "fontWeight": "bold", "fontStyle": "italic", "color": "#dcdcdc"}, "encoding": {"x": {"datum": 516, "type": "quantitative", "axis": {"title": "Wavelength (nm)", "values": [300,350,400,450,500,550,600,650,700,750,800]}}, "y": {"datum": 51, "type": "quantitative", "axis": {"title": "%T", "values": [0,10,20,30,40,50,60,70,80,90,100]}}}},
    {"data": {"values": [{}]}, "mark": {"type": "text", "text": "OMA", "align": "left", "baseline": "middle", "fontSize": 31, "fontWeight": "bold", "fontStyle": "italic", "color": "#ebebeb"}, "encoding": {"x": {"datum": 516, "type": "quantitative", "axis": {"title": "Wavelength (nm)", "values": [300,350,400,450,500,550,600,650,700,750,800]}}, "y": {"datum": 51, "type": "quantitative", "axis": {"title": "%T", "values": [0,10,20,30,40,50,60,70,80,90,100]}}}},
    {"data": {"values": [{"name": "BLUE"}]}, "mark": {"type": "point", "filled": true, "size": 85, "color": "#0d5eaf", "opacity": 1}, "encoding": {"x": {"datum": 285.4, "type": "quantitative", "axis": {"title": "Wavelength (nm)", "values": [300,350,400,450,500,550,600,650,700,750,800]}}, "y": {"datum": 111, "type": "quantitative", "axis": {"title": "%T", "values": [0,10,20,30,40,50,60,70,80,90,100]}}}},
    {"data": {"values": [{"name": "BLUE"}]}, "mark": {"type": "text", "align": "left", "baseline": "middle", "fontSize": 12, "fontWeight": "bold", "color": "#111"}, "encoding": {"text": {"field": "name"}, "x": {"datum": 306.25, "type": "quantitative", "axis": {"title": "Wavelength (nm)", "values": [300,350,400,450,500,550,600,650,700,750,800]}}, "y": {"datum": 111, "type": "quantitative", "axis": {"title": "%T", "values": [0,10,20,30,40,50,60,70,80,90,100]}}}},
    {"data": {"name": "blue"}, "mark": {"type": "line", "color": "#2828ff", "strokeWidth": 2, "interpolate": "monotone"},
     "encoding": {"x": {"field": "w", "type": "quantitative", "scale": {"domain": [300, 800], "nice": false, "zero": false}, "axis": {"title": "Wavelength (nm)", "values": [300,350,400,450,500,550,600,650,700,750,800]}},
                  "y": {"field": "t", "type": "quantitative", "scale": {"domain": [-1.5, 101], "nice": false}, "axis": {"title": "%T", "values": [0,10,20,30,40,50,60,70,80,90,100]}}}}
   ]},
  {"width": 240, "height": 129,
   "layer": [
    {"data": {"values": [{}]}, "mark": {"type": "point", "shape": "M-1,0C-1,-0.276,-0.552,-0.5,0,-0.5C0.552,-0.5,1,-0.276,1,0C1,0.276,0.552,0.5,0,0.5C-0.552,0.5,-1,0.276,-1,0Z", "size": 10816, "angle": -33, "filled": false, "color": "#e5e5e5", "strokeWidth": 3.5, "opacity": 1}, "encoding": {"x": {"datum": 642, "type": "quantitative", "axis": {"title": "Wavelength (nm)", "values": [300,400,500,600,700,800,900,1000,1100,1200]}}, "y": {"datum": 52, "type": "quantitative", "axis": {"title": "%T", "values": [0,10,20,30,40,50,60,70,80,90,100]}}}},
    {"data": {"values": [{}]}, "mark": {"type": "text", "text": "CHR", "align": "right", "baseline": "middle", "fontSize": 31, "fontWeight": "bold", "fontStyle": "italic", "color": "#dcdcdc"}, "encoding": {"x": {"datum": 690, "type": "quantitative", "axis": {"title": "Wavelength (nm)", "values": [300,400,500,600,700,800,900,1000,1100,1200]}}, "y": {"datum": 51, "type": "quantitative", "axis": {"title": "%T", "values": [0,10,20,30,40,50,60,70,80,90,100]}}}},
    {"data": {"values": [{}]}, "mark": {"type": "text", "text": "OMA", "align": "left", "baseline": "middle", "fontSize": 31, "fontWeight": "bold", "fontStyle": "italic", "color": "#ebebeb"}, "encoding": {"x": {"datum": 690, "type": "quantitative", "axis": {"title": "Wavelength (nm)", "values": [300,400,500,600,700,800,900,1000,1100,1200]}}, "y": {"datum": 51, "type": "quantitative", "axis": {"title": "%T", "values": [0,10,20,30,40,50,60,70,80,90,100]}}}},
    {"data": {"values": [{"name": "CLEAR"}]}, "mark": {"type": "point", "filled": true, "size": 85, "color": "#a7a8aa", "opacity": 1}, "encoding": {"x": {"datum": 270, "type": "quantitative", "axis": {"title": "Wavelength (nm)", "values": [300,400,500,600,700,800,900,1000,1100,1200]}}, "y": {"datum": 111, "type": "quantitative", "axis": {"title": "%T", "values": [0,10,20,30,40,50,60,70,80,90,100]}}}},
    {"data": {"values": [{"name": "CLEAR"}]}, "mark": {"type": "text", "align": "left", "baseline": "middle", "fontSize": 12, "fontWeight": "bold", "color": "#111"}, "encoding": {"text": {"field": "name"}, "x": {"datum": 305.6, "type": "quantitative", "axis": {"title": "Wavelength (nm)", "values": [300,400,500,600,700,800,900,1000,1100,1200]}}, "y": {"datum": 111, "type": "quantitative", "axis": {"title": "%T", "values": [0,10,20,30,40,50,60,70,80,90,100]}}}},
    {"data": {"name": "clear"}, "mark": {"type": "line", "color": "#cdcdcd", "strokeWidth": 2, "interpolate": "monotone"},
     "encoding": {"x": {"field": "w", "type": "quantitative", "scale": {"domain": [300, 1200], "nice": false, "zero": false}, "axis": {"title": "Wavelength (nm)", "values": [300,400,500,600,700,800,900,1000,1100,1200]}},
                  "y": {"field": "t", "type": "quantitative", "scale": {"domain": [-1.5, 101], "nice": false}, "axis": {"title": "%T", "values": [0,10,20,30,40,50,60,70,80,90,100]}}}}
   ]}
]
}
